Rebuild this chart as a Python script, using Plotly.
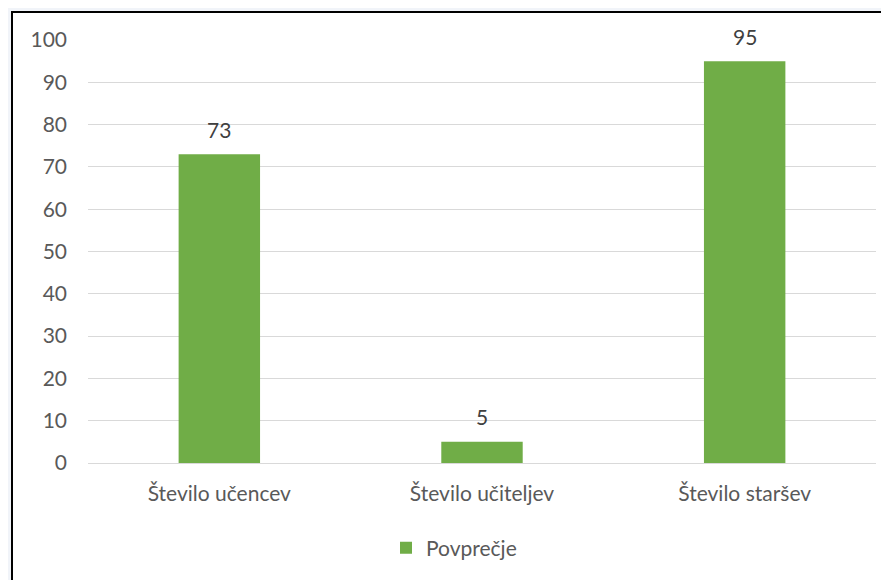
import plotly.graph_objects as go

categories = ["Število učencev", "Število učiteljev", "Število staršev"]
values = [73, 5, 95]
series_name = "Povprečje"
y_ticks = [0, 10, 20, 30, 40, 50, 60, 70, 80, 90, 100]

OFF = 8  # page body margin
W, H = 889 - OFF, 580 - OFF
# plot area in page coordinates
PX0, PX1, PY0, PY1 = 88, 876, 40, 463
L, R = PX0 - OFF, (OFF + W) - PX1
T, B = PY0 - OFF, (OFF + H) - PY1
pw, ph = PX1 - PX0, PY1 - PY0

def px(x):
    return (x - PX0) / pw

def py(y):
    return (PY1 - y) / ph

FONT = "Lato"
FS = 21

fig = go.Figure()
fig.add_trace(go.Bar(
    x=categories, y=values, name=series_name,
    marker=dict(color="#70ad47", line=dict(width=0)),
    width=0.31,
    showlegend=True,
))

for c, v in zip(categories, values):
    fig.add_annotation(x=c, y=v, text=str(v), showarrow=False, yanchor="middle",
                       yshift=25, font=dict(size=FS, color="#404040", family=FONT))

fig.add_shape(type="rect", xref="paper", yref="paper",
              x0=px(12), x1=px(900), y0=py(600), y1=py(12),
              fillcolor="white", line=dict(color="black", width=2), layer="below")

fig.update_layout(
    width=W, height=H,
    margin=dict(l=L, r=R, t=T, b=B, pad=0, autoexpand=False),
    paper_bgcolor="#f1f4f9",
    plot_bgcolor="rgba(0,0,0,0)",
    font=dict(family=FONT, size=FS, color="#595959"),
    showlegend=True,
    legend=dict(orientation="h", x=px(454), xanchor="center", y=py(548), yanchor="middle",
                font=dict(size=FS, color="#595959"), bgcolor="rgba(0,0,0,0)",
                itemwidth=30),
    xaxis=dict(showgrid=False, showline=False, ticks="", ticklabelstandoff=16,
               tickfont=dict(size=FS, color="#595959")),
    yaxis=dict(range=[0, 100], tickvals=y_ticks, showgrid=True, gridcolor="#d9d9d9", gridwidth=1,
               zeroline=True, zerolinecolor="#d9d9d9", zerolinewidth=1,
               showline=False, ticks="", ticklabelstandoff=20,
               tickfont=dict(size=FS, color="#595959")),
)

fig.write_html("out.html")
